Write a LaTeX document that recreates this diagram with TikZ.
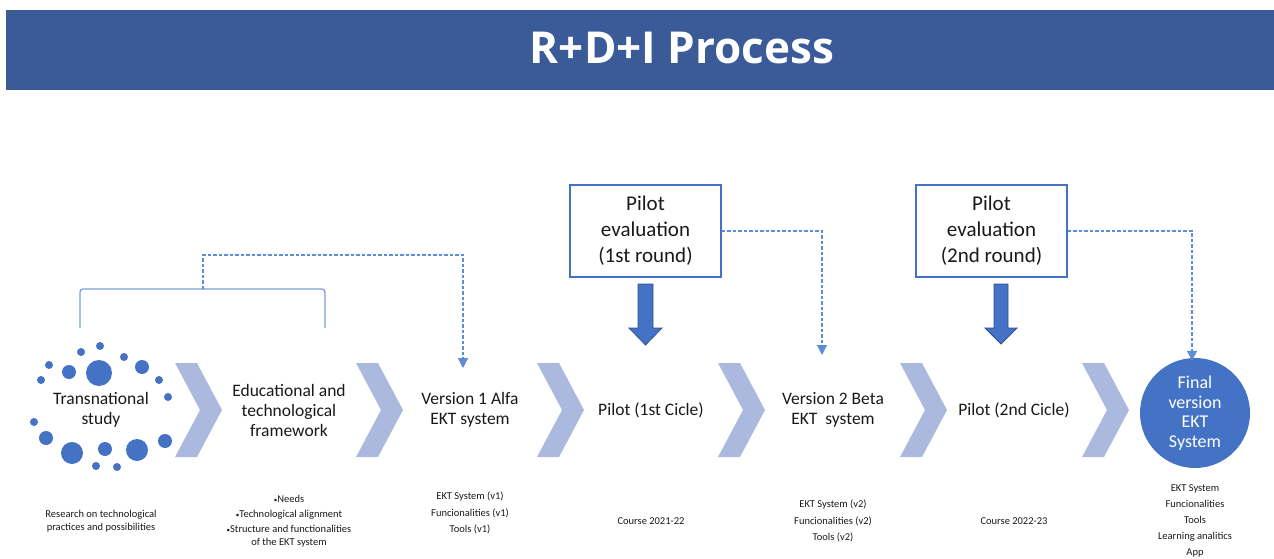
\documentclass[tikz,border=0pt]{standalone}
\usepackage{fontspec}
\setmainfont{Carlito}
\newfontfamily\titlefont{Open Sans}
\usetikzlibrary{arrows.meta}
\definecolor{band}{RGB}{58,90,152}
\definecolor{oblue}{RGB}{68,114,196}
\definecolor{darkblue}{RGB}{47,82,143}
\definecolor{chev}{RGB}{172,185,222}
\definecolor{brk}{RGB}{125,156,214}
\definecolor{dsh}{RGB}{95,140,214}
\definecolor{txt}{RGB}{25,25,25}
\newcommand{\smbul}{{\fontsize{7}{7}\selectfont •}}
\tikzset{
  lbl/.style={align=center,text=txt,font=\fontsize{17.5}{20}\selectfont,inner sep=0pt},
  small/.style={align=center,text=txt,font=\fontsize{10.5}{16.5}\selectfont,inner sep=0pt},
  evalbox/.style={draw=oblue,line width=1.3pt,minimum width=151pt,minimum height=92pt,align=center,text=txt,font=\fontsize{21}{26}\selectfont,inner sep=0pt},
  chevshape/.style={fill=chev,draw=none},
  dot/.style={circle,fill=oblue,draw=none,inner sep=0pt},
  dashconn/.style={draw=dsh,line width=1.2pt,dash pattern=on 3.5pt off 2pt,-{Triangle[length=10pt,width=10pt]}},
  bigarrow/.style={fill=oblue,draw=darkblue,line width=0.8pt}
}
\begin{document}
\begin{tikzpicture}[x=1pt,y=-1pt]
\useasboundingbox (0,0) rectangle (1274,559);
% title band
\fill[band] (6,10) rectangle (1274,90);
\node[text=white,font=\titlefont\bfseries\fontsize{44}{48}\selectfont,inner sep=0pt] (title) at (682,48) {R+D+I Process};
% dots
\foreach \x/\y/\r [count=\i] in {100/346/4,81/352/4,124/357/4,49/365/4,69/372/7,99/373/13,142/367/7,41/380/4,159/380/4,168/397/4,34/422/4,46/438/7,165/441/7,72/453/11,105/449/7,137/450/11,96/466/4,117/467/4}
  \node[dot,minimum size=2*\r pt] (d\i) at (\x,\y) {};
\node[lbl] (ts) at (101,410) {Transnational\\study};
% chevrons
\foreach \cx [count=\i] in {175,356,537,718,900,1082}
  \fill[chevshape] (\cx,363) -- (\cx+22,363) -- (\cx+47,410) -- (\cx+22,457) -- (\cx,457) -- (\cx+25,410) -- cycle;
% main nodes
\node[lbl] (edu) at (289,410) {Educational and\\technological\\framework};
\node[lbl] (v1) at (470,410) {Version 1 Alfa\\EKT system};
\node[lbl] (p1) at (651,410) {Pilot (1st Cicle)};
\node[lbl] (v2) at (833,410) {Version 2 Beta\\EKT\ \ system};
\node[lbl] (p2) at (1014,410) {Pilot (2nd Cicle)};
\node[circle,fill=oblue,minimum size=110pt,inner sep=0pt,text=white,align=center,font=\fontsize{18}{19.5}\selectfont] (fin) at (1195,413) {Final\\version\\EKT\\System};
% evaluation boxes
\node[evalbox] (pe1) at (645.5,231) {Pilot\\evaluation\\(1st round)};
\node[evalbox] (pe2) at (991.5,231) {Pilot\\evaluation\\(2nd round)};
% thick arrows
\fill[bigarrow] (638,284) -- (653,284) -- (653,328) -- (662,328) -- (645.5,345) -- (629,328) -- (638,328) -- cycle;
\fill[bigarrow] (994,284) -- (1008,284) -- (1008,328) -- (1017,328) -- (1001,344) -- (985,328) -- (994,328) -- cycle;
% bracket
\coordinate (bl) at (80,328);
\coordinate (br) at (325,328);
\coordinate (bm) at (203,289);
\draw[brk,line width=1.3pt,rounded corners=3pt] (bl) -- (80,289) -- (325,289) -- (br);
% dashed connectors
\coordinate (v1in) at (463,368);
\coordinate (v2in) at (822,355);
\draw[dashconn] (bm) -- (203,255) -| (v1in);
\draw[dashconn] (pe1.east) -| (v2in);
\draw[dashconn] (pe2.east) -| ([xshift=-3pt,yshift=-3pt]fin.north);
% bottom texts
\node[small,font=\fontsize{10.5}{13}\selectfont] (b1) at (101,521) {Research on technological\\practices and possibilities};
\node[small,font=\fontsize{10.5}{15.3}\selectfont] (b2) at (289,521) {\smbul Needs\\\smbul Technological alignment\\[0pt]\smbul Structure and functionalities\\[-3pt]of the EKT system};
\node[small] (b3) at (470,513) {EKT System (v1)\\Funcionalities (v1)\\Tools (v1)};
\node[small] (b4) at (651,521) {Course 2021-22};
\node[small] (b5) at (833,521) {EKT System (v2)\\Funcionalities (v2)\\Tools (v2)};
\node[small] (b6) at (1014,521) {Course 2022-23};
\node[small,font=\fontsize{10.5}{16.2}\selectfont] (b7) at (1195,521) {EKT System\\Funcionalities\\Tools\\Learning analitics\\App};
\end{tikzpicture}
\end{document}
